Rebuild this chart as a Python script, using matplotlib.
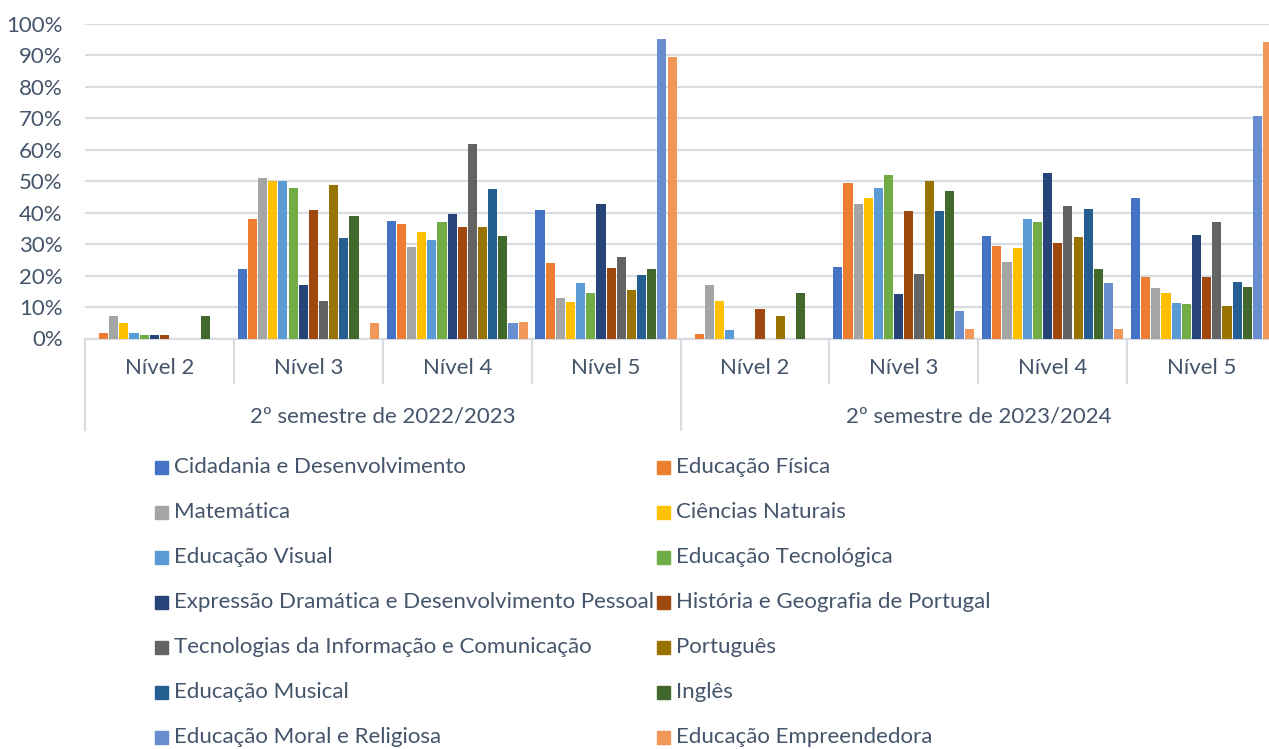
import matplotlib.pyplot as plt
import matplotlib.transforms as mtransforms
from matplotlib.patches import Rectangle
from matplotlib.ticker import PercentFormatter

plt.rcParams['font.family'] = ['Lato', 'DejaVu Sans']

levels = ['Nível 2', 'Nível 3', 'Nível 4', 'Nível 5']
semesters = ['2º semestre de 2022/2023', '2º semestre de 2023/2024']

subjects = ['Cidadania e Desenvolvimento', 'Educação Física', 'Matemática',
            'Ciências Naturais', 'Educação Visual', 'Educação Tecnológica',
            'Expressão Dramática e Desenvolvimento Pessoal',
            'História e Geografia de Portugal',
            'Tecnologias da Informação e Comunicação', 'Português',
            'Educação Musical', 'Inglês', 'Educação Moral e Religiosa',
            'Educação Empreendedora']

# % per group: 2022/23 N2..N5, then 2023/24 N2..N5
cidadania = [0, 22.0, 37.4, 40.9, 0, 22.7, 32.6, 44.7]
ed_fisica = [1.9, 38.0, 36.4, 24.0, 1.3, 49.5, 29.4, 19.5]
matematica = [7.0, 51.1, 29.1, 12.8, 16.9, 42.8, 24.3, 16.0]
ciencias = [4.8, 50.2, 33.9, 11.5, 11.8, 44.7, 28.8, 14.4]
ed_visual = [1.9, 50.2, 31.3, 17.6, 2.6, 47.9, 38.0, 11.2]
ed_tecnologica = [1.0, 47.9, 37.1, 14.4, 0, 52.1, 37.1, 10.9]
expressao = [1.0, 16.9, 39.6, 42.8, 0, 14.1, 52.7, 32.9]
historia = [1.0, 40.9, 35.5, 22.4, 9.3, 40.6, 30.4, 19.5]
tic = [0, 11.8, 62.0, 25.9, 0, 20.4, 42.2, 37.1]
portugues = [0, 48.9, 35.5, 15.3, 7.0, 50.2, 32.3, 10.2]
ed_musical = [0, 31.9, 47.6, 20.1, 0, 40.6, 41.2, 17.9]
ingles = [7.0, 39.0, 32.6, 22.0, 14.4, 47.0, 22.0, 16.3]
emrc = [0, 0, 4.8, 95.2, 0, 8.6, 17.6, 70.6]
empreendedora = [0, 4.8, 5.1, 89.5, 0, 2.9, 2.9, 94.2]

series = [cidadania, ed_fisica, matematica, ciencias, ed_visual, ed_tecnologica,
          expressao, historia, tic, portugues, ed_musical, ingles, emrc,
          empreendedora]

colors = ['#4472C4', '#ED7D31', '#A5A5A5', '#FFC000', '#5B9BD5', '#70AD47',
          '#264478', '#9E480E', '#636363', '#997300', '#255E91', '#43682B',
          '#698ED0', '#F1975A']

text_color = '#44546A'
grid_color = '#D9DDE3'
fs = 16

W, H = 1269, 749
fig = plt.figure(figsize=(W / 100, H / 100), dpi=100)
ax = fig.add_axes([85 / W, 1 - 338.5 / H, (1276 - 85) / W, 314.5 / H])

n = len(series)
slot = 0.955 / n
x = range(len(levels) * len(semesters))
for k, (vals, c) in enumerate(zip(series, colors)):
    pos = [i + (k - (n - 1) / 2) * slot for i in x]
    ax.bar(pos, [v / 100 for v in vals], width=slot * 0.9, color=c, zorder=3)

ax.set_xlim(-0.5, 7.5)
ax.set_ylim(0, 1)
ax.set_yticks([i / 10 for i in range(11)])
ax.yaxis.set_major_formatter(PercentFormatter(1.0, decimals=0))
ax.tick_params(axis='y', length=0, pad=16, labelsize=fs, labelcolor=text_color)
ax.set_xticks([])
ax.yaxis.grid(True, color=grid_color, lw=1.6)
ax.set_axisbelow(True)
for s in ['top', 'right', 'left']:
    ax.spines[s].set_visible(False)
ax.spines['bottom'].set_color(grid_color)
ax.spines['bottom'].set_linewidth(1.6)

# multi-level category axis
trans = mtransforms.blended_transform_factory(ax.transData, ax.transAxes)
for b in [-0.5, 0.5, 1.5, 2.5, 3.5, 4.5, 5.5, 6.5, 7.5]:
    long_line = b in (-0.5, 3.5, 7.5)
    ax.plot([b, b], [0, -0.29 if long_line else -0.142], transform=trans,
            color=grid_color, lw=1.6, clip_on=False)
for i in x:
    ax.text(i, -0.094, levels[i % 4], transform=trans, ha='center', va='center',
            fontsize=fs, color=text_color)
for j, sem in enumerate(semesters):
    ax.text(j * 4 + 1.5, -0.248, sem, transform=trans, ha='center', va='center',
            fontsize=fs, color=text_color)

# legend, two columns filled row by row
for j, (name, c) in enumerate(zip(subjects, colors)):
    row, col = divmod(j, 2)
    mx = [155, 657][col]
    my = 467 + 45 * row
    fig.add_artist(Rectangle((mx / W, 1 - (my + 6.5) / H), 13 / W, 13 / H,
                             transform=fig.transFigure, color=c))
    fig.text((mx + 19) / W, 1 - my / H, name, ha='left', va='center',
             fontsize=fs, color=text_color)

fig.savefig('out.png', dpi=100)
